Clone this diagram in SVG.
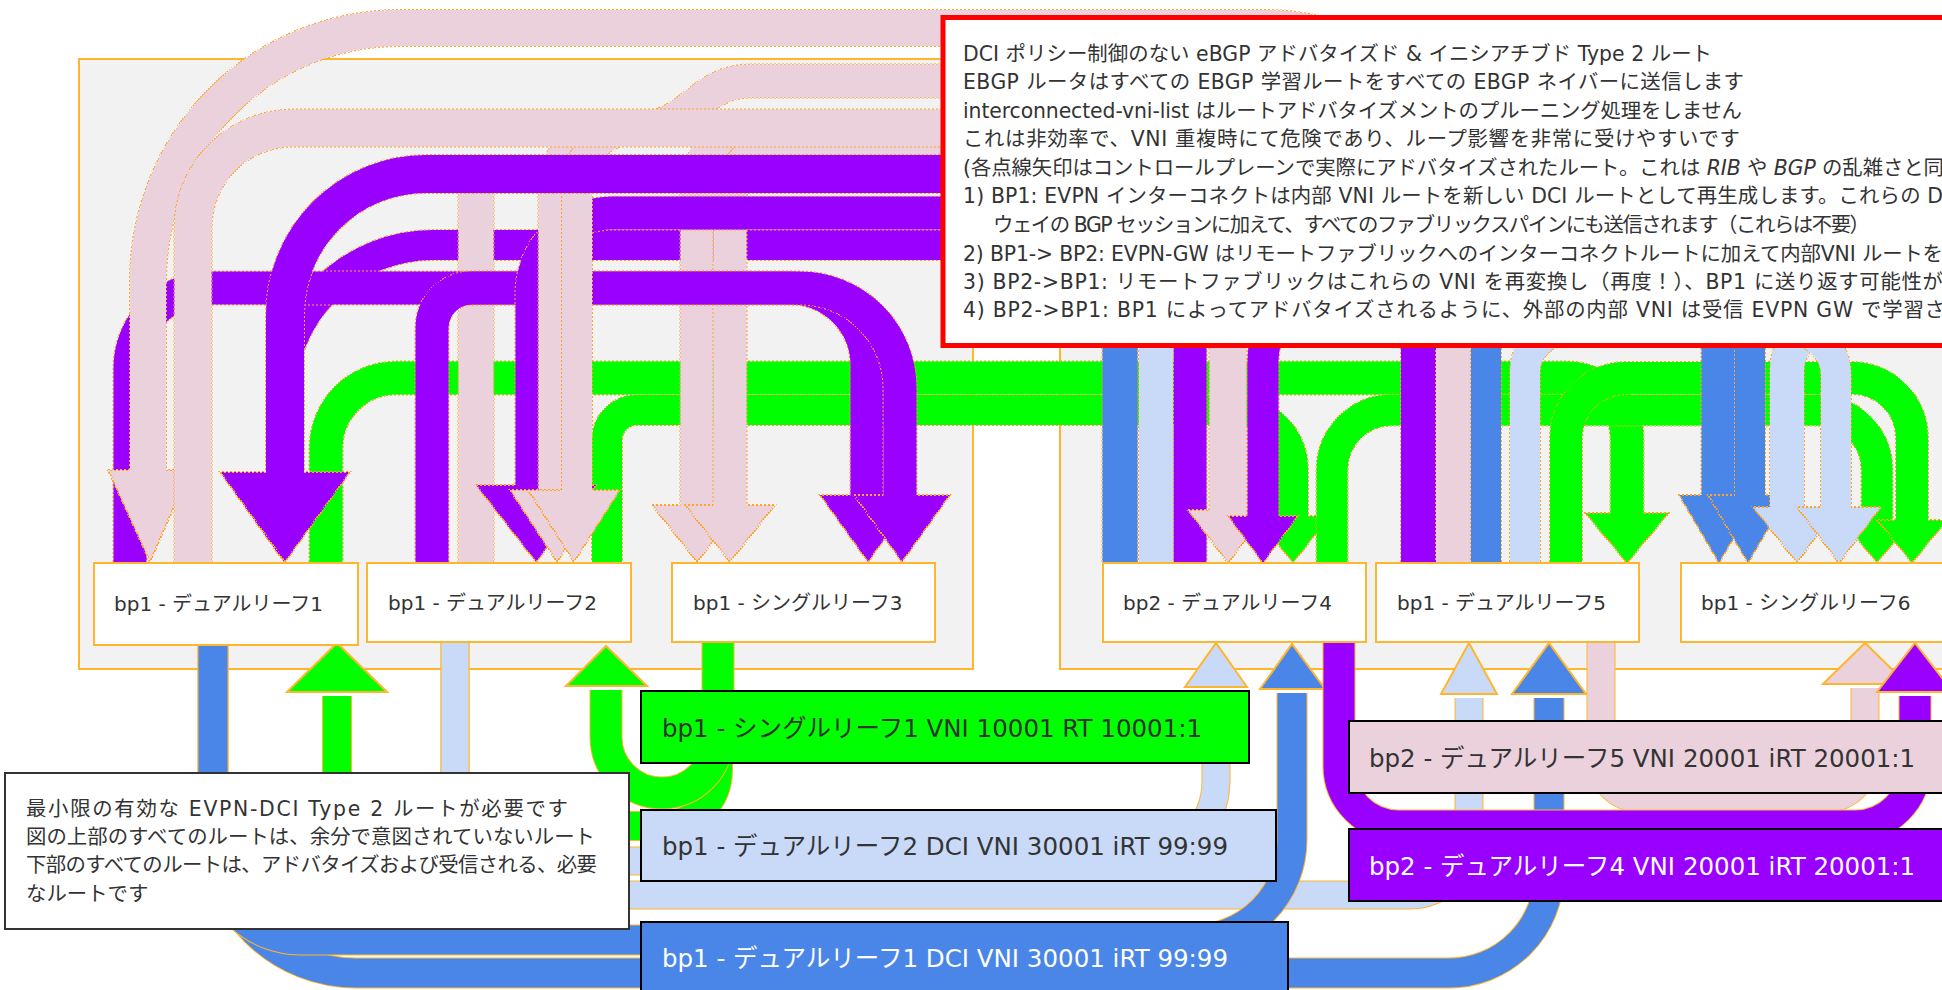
<svg xmlns="http://www.w3.org/2000/svg" width="1942" height="990" viewBox="0 0 1942 990">
<defs>
<pattern id="dot" width="4" height="4" patternUnits="userSpaceOnUse"><rect width="2" height="2" fill="#FFA424"/><rect x="2" y="2" width="2" height="2" fill="#FFA424"/></pattern>
<style>
.c{fill:none}
.kd{stroke:url(#dot)}
.ks{stroke:#FFB62F}
.hw{stroke-width:2}
.sg{stroke:#00FF00}.sp{stroke:#9900FF}.sk{stroke:#EAD1DC}.sl{stroke:#C9DAF8}.sb{stroke:#4A86E8}
.fg{fill:#00FF00}.fp{fill:#9900FF}.fk{fill:#EAD1DC}.fl{fill:#C9DAF8}.fb{fill:#4A86E8}
.cont{fill:#F2F2F2;stroke:#FFB62F;stroke-width:2}
.node{fill:#FFFFFF;stroke:#FFB62F;stroke-width:2}
.lab{stroke:#000000;stroke-width:2}
text{font-family:"DejaVu Sans","Noto Sans CJK JP",sans-serif;fill:#333333}
.nt{font-size:20px}
.lt{font-size:24.5px}
.rt{font-size:20.4px}
.w{fill:#FFFFFF}
</style>
</defs>
<rect width="1942" height="990" fill="#FFFFFF"/>
<g id="containers">
<rect class="cont" x="79" y="59" width="894" height="610"/>
<rect class="cont" x="1060" y="59" width="900" height="610"/>
</g>
<g id="connectors">
<g id="ga"><path class="c kd" stroke-width="35" d="M 326 563 V 448 A 70 70 0 0 1 396 378 H 1567 A 60 60 0 0 1 1627 438 V 517"/><polygon class="fg kd hw" points="1585,513 1669,513 1627,563"/><path class="c sg" stroke-width="33" d="M 326 563 V 448 A 70 70 0 0 1 396 378 H 1567 A 60 60 0 0 1 1627 438 V 517"/></g>
<g id="gb"><path class="c kd" stroke-width="32" d="M 607 563 V 440 A 30 30 0 0 1 637 410 H 1233 A 60 60 0 0 1 1293 470 V 520"/><polygon class="fg kd hw" points="1256,516 1330,516 1293,563"/><path class="c sg" stroke-width="30" d="M 607 563 V 440 A 30 30 0 0 1 637 410 H 1233 A 60 60 0 0 1 1293 470 V 520"/></g>
<g id="gc"><path class="c kd" stroke-width="33" d="M 1332 563 V 470 A 60 60 0 0 1 1392 410 H 1817 A 60 60 0 0 1 1877 470 V 524"/><polygon class="fg kd hw" points="1842,520 1912,520 1877,563"/><path class="c sg" stroke-width="31" d="M 1332 563 V 470 A 60 60 0 0 1 1392 410 H 1817 A 60 60 0 0 1 1877 470 V 524"/></g>
<g id="gd"><path class="c kd" stroke-width="34" d="M 1566 563 V 438 A 60 60 0 0 1 1626 378 H 1852 A 60 60 0 0 1 1912 438 V 524"/><polygon class="fg kd hw" points="1877,520 1947,520 1912,563"/><path class="c sg" stroke-width="32" d="M 1566 563 V 438 A 60 60 0 0 1 1626 378 H 1852 A 60 60 0 0 1 1912 438 V 524"/></g>
<g id="t6"><path class="c kd" stroke-width="32" d="M 1190 563 V 305 A 60 60 0 0 0 1130 245 H 433 A 152 152 0 0 0 281 397 V 478"/><polygon class="fp kd hw" points="222,474 346,474 284,562"/><path class="c sp" stroke-width="30" d="M 1190 563 V 305 A 60 60 0 0 0 1130 245 H 433 A 152 152 0 0 0 281 397 V 478"/></g>
<g id="p3a"><path class="c kd" stroke-width="35" d="M 2000 128 H 757 A 60 60 0 0 0 697 188 V 509"/><polygon class="fk kd hw" points="652,505 742,505 697,562"/><path class="c sk" stroke-width="33" d="M 2000 128 H 757 A 60 60 0 0 0 697 188 V 509"/></g>
<g id="p3b"><path class="c kd" stroke-width="35" d="M 2000 140 H 790 A 60 60 0 0 0 730 200 V 509"/><polygon class="fk kd hw" points="685,505 775,505 730,562"/><path class="c sk" stroke-width="33" d="M 2000 140 H 790 A 60 60 0 0 0 730 200 V 509"/></g>
<g id="p2t"><path class="c kd" stroke-width="37" d="M 476 563 V 192 A 18 18 0 0 1 494 174 H 2000"/><path class="c sk" stroke-width="35" d="M 476 563 V 192 A 18 18 0 0 1 494 174 H 2000"/></g>
<g id="ein"><path class="c kd" stroke-width="35" d="M 130 563 V 368 A 80 80 0 0 1 210 288 H 790 A 77 77 0 0 1 867 365 V 499"/><polygon class="fp kd hw" points="820,495 916,495 868,562"/><path class="c sp" stroke-width="33" d="M 130 563 V 368 A 80 80 0 0 1 210 288 H 790 A 77 77 0 0 1 867 365 V 499"/></g>
<g id="eout"><path class="c kd" stroke-width="35" d="M 432 563 V 328 A 40 40 0 0 1 472 288 H 800 A 100 100 0 0 1 900 388 V 499"/><polygon class="fp kd hw" points="854,495 950,495 902,562"/><path class="c sp" stroke-width="33" d="M 432 563 V 328 A 40 40 0 0 1 472 288 H 800 A 100 100 0 0 1 900 388 V 499"/></g>
<g id="t5"><path class="c kd" stroke-width="35" d="M 1190 563 V 273 A 60 60 0 0 0 1130 213 H 612 A 80 80 0 0 0 532 293 V 489"/><polygon class="fp kd hw" points="476,485 596,485 536,562"/><path class="c sp" stroke-width="33" d="M 1190 563 V 273 A 60 60 0 0 0 1130 213 H 612 A 80 80 0 0 0 532 293 V 489"/></g>
<g id="p2a"><path class="c kd" stroke-width="35" d="M 2000 81 H 750 C 700 81 690 128 640 128 H 615 A 60 60 0 0 0 555 188 V 494"/><polygon class="fk kd hw" points="510,490 604,490 557,562"/><path class="c sk" stroke-width="33" d="M 2000 81 H 750 C 700 81 690 128 640 128 H 615 A 60 60 0 0 0 555 188 V 494"/></g>
<g id="p2b"><path class="c kd" stroke-width="32" d="M 2000 128 H 637 A 60 60 0 0 0 577 188 V 494"/><polygon class="fk kd hw" points="528,490 620,490 574,562"/><path class="c sk" stroke-width="30" d="M 2000 128 H 637 A 60 60 0 0 0 577 188 V 494"/></g>
<g id="t4"><path class="c kd" stroke-width="40" d="M 1420 563 V 234 A 60 60 0 0 0 1360 174 H 426 A 141 141 0 0 0 285 315 V 476"/><polygon class="fp kd hw" points="220,472 350,472 285,562"/><path class="c sp" stroke-width="38" d="M 1420 563 V 234 A 60 60 0 0 0 1360 174 H 426 A 141 141 0 0 0 285 315 V 476"/></g>
<g id="t1"><path class="c kd" stroke-width="38" d="M 1454 563 V 213 A 185 185 0 0 0 1269 28 H 400 A 252 252 0 0 0 148 280 V 474"/><polygon class="fk kd hw" points="108,470 190,470 150,562"/><path class="c sk" stroke-width="36" d="M 1454 563 V 213 A 185 185 0 0 0 1269 28 H 400 A 252 252 0 0 0 148 280 V 474"/></g>
<g id="l2"><path class="c kd" stroke-width="39" d="M 193 563 V 228 A 100 100 0 0 1 293 128 H 1168 A 60 60 0 0 1 1228 188 V 514"/><polygon class="fk kd hw" points="1188,510 1268,510 1228,563"/><path class="c sk" stroke-width="37" d="M 193 563 V 228 A 100 100 0 0 1 293 128 H 1168 A 60 60 0 0 1 1228 188 V 514"/></g>
<g id="p4"><path class="c kd" stroke-width="33" d="M 2000 300 H 1323 A 60 60 0 0 0 1263 360 V 520"/><polygon class="fp kd hw" points="1228,516 1298,516 1263,563"/><path class="c sp" stroke-width="31" d="M 2000 300 H 1323 A 60 60 0 0 0 1263 360 V 520"/></g>
<g id="r1"><path class="c kd" stroke-width="37" d="M 1120 563 V 250 A 60 60 0 0 1 1180 190 H 1659 A 60 60 0 0 1 1719 250 V 499"/><polygon class="fb kd hw" points="1679,495 1759,495 1719,563"/><path class="c sb" stroke-width="35" d="M 1120 563 V 250 A 60 60 0 0 1 1180 190 H 1659 A 60 60 0 0 1 1719 250 V 499"/></g>
<g id="r2"><path class="c kd" stroke-width="32" d="M 1486 563 V 270 A 50 50 0 0 1 1536 220 H 1700 A 50 50 0 0 1 1750 270 V 499"/><polygon class="fb kd hw" points="1708,495 1788,495 1748,563"/><path class="c sb" stroke-width="30" d="M 1486 563 V 270 A 50 50 0 0 1 1536 220 H 1700 A 50 50 0 0 1 1750 270 V 499"/></g>
<g id="r3"><path class="c kd" stroke-width="36" d="M 1156 563 V 120 A 60 60 0 0 1 1216 60 H 1900 A 30 30 0 0 1 1930 90 V 295 A 30 30 0 0 1 1900 325 H 1832 A 45 45 0 0 0 1787 370 V 511"/><polygon class="fl kd hw" points="1753,507 1837,507 1797,563"/><path class="c sl" stroke-width="34" d="M 1156 563 V 120 A 60 60 0 0 1 1216 60 H 1900 A 30 30 0 0 1 1930 90 V 295 A 30 30 0 0 1 1900 325 H 1832 A 45 45 0 0 0 1787 370 V 511"/></g>
<g id="r4"><path class="c kd" stroke-width="32" d="M 1525 563 V 372 A 42 42 0 0 1 1567 330 H 1791 A 45 45 0 0 1 1836 375 V 511"/><polygon class="fl kd hw" points="1797,507 1881,507 1839,563"/><path class="c sl" stroke-width="30" d="M 1525 563 V 372 A 42 42 0 0 1 1567 330 H 1791 A 45 45 0 0 1 1836 375 V 511"/></g>
<g id="b4"><path class="c ks" stroke-width="29" d="M 455 642 V 835 A 60 60 0 0 0 515 895 H 1409 A 60 60 0 0 0 1469 835 V 698"/><polygon class="fl ks hw" points="1441,694 1497,694 1469,643"/><path class="c sl" stroke-width="27" d="M 455 642 V 835 A 60 60 0 0 0 515 895 H 1409 A 60 60 0 0 0 1469 835 V 698"/></g>
<g id="b3"><path class="c ks" stroke-width="29" d="M 455 642 V 781 A 80 80 0 0 0 535 861 H 1136 A 80 80 0 0 0 1216 781 V 691"/><polygon class="fl ks hw" points="1185,687 1247,687 1216,643"/><path class="c sl" stroke-width="27" d="M 455 642 V 781 A 80 80 0 0 0 535 861 H 1136 A 80 80 0 0 0 1216 781 V 691"/></g>
<g id="b2"><path class="c ks" stroke-width="31" d="M 213 645 V 830 A 143 143 0 0 0 356 973 H 1449 A 100 100 0 0 0 1549 873 V 698"/><polygon class="fb ks hw" points="1512,694 1586,694 1549,643"/><path class="c sb" stroke-width="29" d="M 213 645 V 830 A 143 143 0 0 0 356 973 H 1449 A 100 100 0 0 0 1549 873 V 698"/></g>
<g id="b1"><path class="c ks" stroke-width="31" d="M 213 645 V 853 A 87 87 0 0 0 300 940 H 1192 A 100 100 0 0 0 1292 840 V 693"/><polygon class="fb ks hw" points="1260,689 1325,689 1292,644"/><path class="c sb" stroke-width="29" d="M 213 645 V 853 A 87 87 0 0 0 300 940 H 1192 A 100 100 0 0 0 1292 840 V 693"/></g>
<g id="b8"><path class="c ks" stroke-width="29" d="M 1601 642 V 760 A 38 38 0 0 0 1639 798 H 1827 A 38 38 0 0 0 1865 760 V 688"/><polygon class="fk ks hw" points="1823,684 1907,684 1865,643"/><path class="c sk" stroke-width="27" d="M 1601 642 V 760 A 38 38 0 0 0 1639 798 H 1827 A 38 38 0 0 0 1865 760 V 688"/></g>
<g id="b7"><path class="c ks" stroke-width="33" d="M 1339 642 V 766 A 60 60 0 0 0 1399 826 H 1855 A 60 60 0 0 0 1915 766 V 696"/><polygon class="fp ks hw" points="1877,692 1953,692 1915,643"/><path class="c sp" stroke-width="31" d="M 1339 642 V 766 A 60 60 0 0 0 1399 826 H 1855 A 60 60 0 0 0 1915 766 V 696"/></g>
<g id="b6"><path class="c ks" stroke-width="30" d="M 718 642 V 770 A 56 56 0 0 1 662 826 H 393 A 56 56 0 0 1 337 770 V 696"/><polygon class="fg ks hw" points="287,692 387,692 337,643"/><path class="c sg" stroke-width="28" d="M 718 642 V 770 A 56 56 0 0 1 662 826 H 393 A 56 56 0 0 1 337 770 V 696"/></g>
<g id="b5"><path class="c ks" stroke-width="33" d="M 718 642 V 737 A 56 56 0 0 1 606 737 V 690"/><polygon class="fg ks hw" points="566,686 647,686 606,646"/><path class="c sg" stroke-width="31" d="M 718 642 V 737 A 56 56 0 0 1 606 737 V 690"/></g>
</g>
<g id="n1"><rect class="node" x="94" y="563" width="264" height="82"/><text class="nt" x="114" y="611">bp1 - デュアルリーフ1</text></g>
<g id="n2"><rect class="node" x="367" y="563" width="264" height="79"/><text class="nt" x="388" y="610">bp1 - デュアルリーフ2</text></g>
<g id="n3"><rect class="node" x="672" y="563" width="263" height="79"/><text class="nt" x="693" y="610">bp1 - シングルリーフ3</text></g>
<g id="n4"><rect class="node" x="1103" y="563" width="263" height="79"/><text class="nt" x="1123" y="610">bp2 - デュアルリーフ4</text></g>
<g id="n5"><rect class="node" x="1376" y="563" width="263" height="79"/><text class="nt" x="1397" y="610">bp1 - デュアルリーフ5</text></g>
<g id="n6"><rect class="node" x="1681" y="563" width="300" height="79"/><text class="nt" x="1701" y="610">bp1 - シングルリーフ6</text></g>
<g id="lab-green"><rect class="lab" x="641" y="691" width="608" height="72" fill="#00FF00"/><text class="lt" x="662" y="737">bp1 - シングルリーフ1 VNI 10001 RT 10001:1</text></g>
<g id="lab-lblue"><rect class="lab" x="641" y="810" width="635" height="71" fill="#C9DAF8"/><text class="lt" x="662" y="855">bp1 - デュアルリーフ2 DCI VNI 30001 iRT 99:99</text></g>
<g id="lab-blue"><rect class="lab" x="641" y="922" width="647" height="80" fill="#4A86E8"/><text class="lt w" x="662" y="967">bp1 - デュアルリーフ1 DCI VNI 30001 iRT 99:99</text></g>
<g id="lab-pink"><rect class="lab" x="1349" y="721" width="620" height="72" fill="#EAD1DC"/><text class="lt" x="1369" y="767">bp2 - デュアルリーフ5 VNI 20001 iRT 20001:1</text></g>
<g id="lab-purple"><rect class="lab" x="1349" y="829" width="620" height="72" fill="#9900FF"/><text class="lt w" x="1369" y="875">bp2 - デュアルリーフ4 VNI 20001 iRT 20001:1</text></g>
<g id="legend"><rect x="5" y="773" width="624" height="156" fill="#FFFFFF" stroke="#333333" stroke-width="2"/>
<text class="rt" x="26" y="816" textLength="542">最小限の有効な EVPN-DCI Type 2 ルートが必要です</text>
<text class="rt" x="26" y="844" textLength="569">図の上部のすべてのルートは、余分で意図されていないルート</text>
<text class="rt" x="26" y="872" textLength="571">下部のすべてのルートは、アドバタイズおよび受信される、必要</text>
<text class="rt" x="26" y="901">なルートです</text>
</g>
<g id="note"><rect x="943" y="17.5" width="1010" height="328" fill="#FFFFFF" stroke="#FF0000" stroke-width="5"/>
<text class="rt" x="963" y="61" textLength="749">DCI ポリシー制御のない eBGP アドバタイズド &amp; イニシアチブド Type 2 ルート</text>
<text class="rt" x="963" y="89" textLength="781">EBGP ルータはすべての EBGP 学習ルートをすべての EBGP ネイバーに送信します</text>
<text class="rt" x="963" y="118" textLength="779">interconnected-vni-list はルートアドバタイズメントのプルーニング処理をしません</text>
<text class="rt" x="963" y="146" textLength="777">これは非効率で、VNI 重複時にて危険であり、ループ影響を非常に受けやすいです</text>
<text class="rt" x="963" y="175" textLength="981">(各点線矢印はコントロールプレーンで実際にアドバタイズされたルート。これは <tspan font-style="italic">RIB</tspan> や <tspan font-style="italic">BGP</tspan> の乱雑さと同</text>
<text class="rt" x="963" y="203" textLength="980">1) BP1: EVPN インターコネクトは内部 VNI ルートを新しい DCI ルートとして再生成します。これらの D</text>
<text class="rt" x="993" y="232" textLength="877">ウェイの BGP セッションに加えて、すべてのファブリックスパインにも送信されます（これらは不要）</text>
<text class="rt" x="963" y="261" textLength="980">2) BP1-&gt; BP2: EVPN-GW はリモートファブリックへのインターコネクトルートに加えて内部VNI ルートを</text>
<text class="rt" x="963" y="289" textLength="980">3) BP2-&gt;BP1: リモートファブリックはこれらの VNI を再変換し（再度！）、BP1 に送り返す可能性が</text>
<text class="rt" x="963" y="317" textLength="982">4) BP2-&gt;BP1: BP1 によってアドバタイズされるように、外部の内部 VNI は受信 EVPN GW で学習さ</text>
</g>
</svg>
